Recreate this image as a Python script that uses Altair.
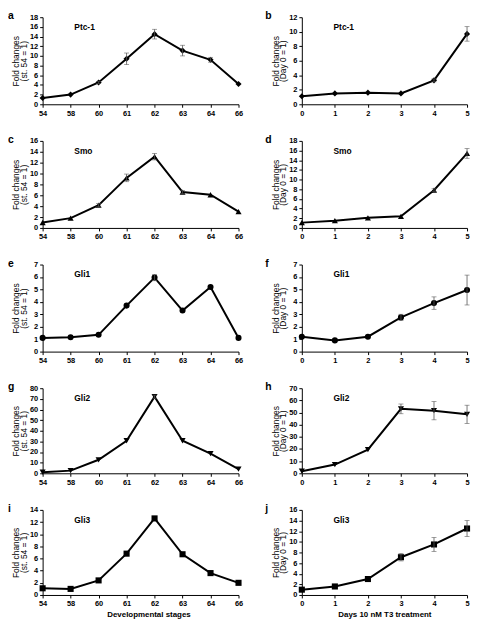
import altair as alt
import pandas as pd

stages = ["54", "58", "60", "61", "62", "63", "64", "66"]
days = ["0", "1", "2", "3", "4", "5"]

ptc1_stage = [1.3, 2.0, 4.5, 9.4, 14.5, 11.1, 9.2, 4.2]
ptc1_stage_err = [0, 0, 0.2, 1.2, 1.0, 1.1, 0.5, 0]
ptc1_day = [1.1, 1.5, 1.6, 1.5, 3.3, 9.7]
ptc1_day_err = [0, 0, 0, 0, 0.2, 1.0]

smo_stage = [1.0, 1.8, 4.2, 9.2, 13.1, 6.6, 6.1, 3.0]
smo_stage_err = [0, 0, 0.3, 0.7, 0.6, 0.3, 0, 0]
smo_day = [1.1, 1.5, 2.1, 2.4, 7.8, 15.4]
smo_day_err = [0, 0, 0, 0, 0.3, 1.0]

gli1_stage = [1.1, 1.15, 1.35, 3.7, 5.95, 3.3, 5.2, 1.1]
gli1_stage_err = [0, 0, 0, 0, 0.25, 0, 0, 0]
gli1_day = [1.2, 0.9, 1.2, 2.75, 3.9, 4.95]
gli1_day_err = [0, 0, 0, 0.25, 0.5, 1.2]

gli2_stage = [1.0, 2.5, 12.7, 30.6, 72.0, 30.6, 18.5, 4.0]
gli2_stage_err = [0, 0, 0, 0, 1.5, 0, 0, 0]
gli2_day = [1.7, 7.2, 19.4, 53.0, 51.5, 48.5]
gli2_day_err = [0, 0, 0, 4.0, 7.5, 7.5]

gli3_stage = [1.1, 1.0, 2.4, 6.8, 12.6, 6.7, 3.6, 2.0]
gli3_stage_err = [0, 0, 0, 0, 0, 0, 0, 0]
gli3_day = [1.0, 1.6, 3.0, 7.1, 9.5, 12.5]
gli3_day_err = [0, 0, 0, 0.7, 1.3, 1.5]

genes = ["Ptc-1", "Smo", "Gli1", "Gli2", "Gli3"]
letters_left = ["a", "c", "e", "g", "i"]
letters_right = ["b", "d", "f", "h", "j"]
shapes = ["diamond", "triangle-up", "circle", "triangle-down", "square"]
ymax_left = [18, 16, 7, 80, 14]
ystep_left = [2, 2, 1, 10, 2]
ymax_right = [12, 18, 7, 70, 16]
ystep_right = [2, 2, 1, 10, 2]

stage_vals = [ptc1_stage, smo_stage, gli1_stage, gli2_stage, gli3_stage]
stage_errs = [ptc1_stage_err, smo_stage_err, gli1_stage_err, gli2_stage_err, gli3_stage_err]
day_vals = [ptc1_day, smo_day, gli1_day, gli2_day, gli3_day]
day_errs = [ptc1_day_err, smo_day_err, gli1_day_err, gli2_day_err, gli3_day_err]

xtitle_left = "Developmental stages"
xtitle_right = "Days 10 nM T3 treatment"
ytitle_left = ["Fold changes", "(st. 54 = 1)"]
ytitle_right = ["Fold changes", "(Day 0 = 1)"]

heights = [88, 88, 88, 86, 86]


def panel(letter, gene, cats, vals, errs, ymax, ystep, shape, ytitle, xtitle, width, H,
          letter_x, xtitle_shift):
    df = pd.DataFrame({"x": cats, "y": vals, "e": errs})
    df["lo"] = df["y"] - df["e"]
    df["hi"] = df["y"] + df["e"]
    x_axis_kw = dict(labelAngle=0, labelPadding=2, titlePadding=3,
                     titleFontWeight="bold", titleFontSize=8, labelOverlap=False)
    if xtitle:
        x_axis_kw["titleX"] = width / 2 + xtitle_shift
    xenc = alt.X("x:O", sort=cats, title=xtitle,
                 scale=alt.Scale(type="point", padding=0),
                 axis=alt.Axis(**x_axis_kw))
    yaxis = alt.Axis(values=list(range(0, ymax + 1, ystep)), labelOverlap=False,
                     labelPadding=2,
                     titleX=-27, titleY=H / 2, titleAngle=-90,
                     titleAlign="center", titleBaseline="middle",
                     titleLineHeight=7.5)
    yscale = alt.Scale(domain=[0, ymax], nice=False, zero=True)

    def Y(field):
        return alt.Y(field, title=ytitle, scale=yscale, axis=yaxis)

    base = alt.Chart(df)
    err = base.transform_filter("datum.e > 0")
    line = base.mark_line(color="black", strokeWidth=2).encode(x=xenc, y=Y("y:Q"))
    pts = base.mark_point(shape=shape, filled=True, size=38, color="black", opacity=1).encode(x=xenc, y=Y("y:Q"))
    rules = err.mark_rule(color="#555555", strokeWidth=0.8).encode(
        x=xenc, y=Y("lo:Q"), y2="hi:Q")
    cap_lo = err.mark_tick(color="#555555", thickness=0.8, size=5).encode(x=xenc, y=Y("lo:Q"))
    cap_hi = err.mark_tick(color="#555555", thickness=0.8, size=5).encode(x=xenc, y=Y("hi:Q"))
    lab = alt.Chart(pd.DataFrame({"t": [gene]})).mark_text(
        align="left", baseline="middle", fontSize=8.5, fontWeight="bold", color="black"
    ).encode(text="t:N", x=alt.value(32), y=alt.value(10))
    let = alt.Chart(pd.DataFrame({"t": [letter]})).mark_text(
        align="left", baseline="top", fontSize=10.5, fontWeight="bold", color="black"
    ).encode(text="t:N", x=alt.value(letter_x), y=alt.value(-6))
    return alt.layer(line, pts, rules, cap_lo, cap_hi, lab, let).properties(width=width, height=H)


panels = []
for i in range(5):
    last = i == 4
    panels.append(panel(letters_left[i], genes[i], stages, stage_vals[i], stage_errs[i],
                        ymax_left[i], ystep_left[i], shapes[i], ytitle_left,
                        xtitle_left if last else None, 198, heights[i], -35, 8))
    panels.append(panel(letters_right[i], genes[i], days, day_vals[i], day_errs[i],
                        ymax_right[i], ystep_right[i], shapes[i], ytitle_right,
                        xtitle_right if last else None, 167, heights[i], -37, 0))

chart = alt.concat(*panels, columns=2, spacing={"row": 37, "column": 64}, bounds="flush").properties(
    padding=0, background="white"
).configure_view(stroke=None).configure_axis(
    grid=False, domainColor="black", domainWidth=1, tickColor="black", tickSize=3,
    labelColor="black", labelFont="Liberation Sans", labelFontSize=7.5, labelFontWeight="bold",
    titleColor="black", titleFont="Liberation Sans", titleFontSize=8.5, titleFontWeight="normal"
).configure_text(font="Liberation Sans")

chart.save("out.html", embed_options={"renderer": "svg", "actions": False})
